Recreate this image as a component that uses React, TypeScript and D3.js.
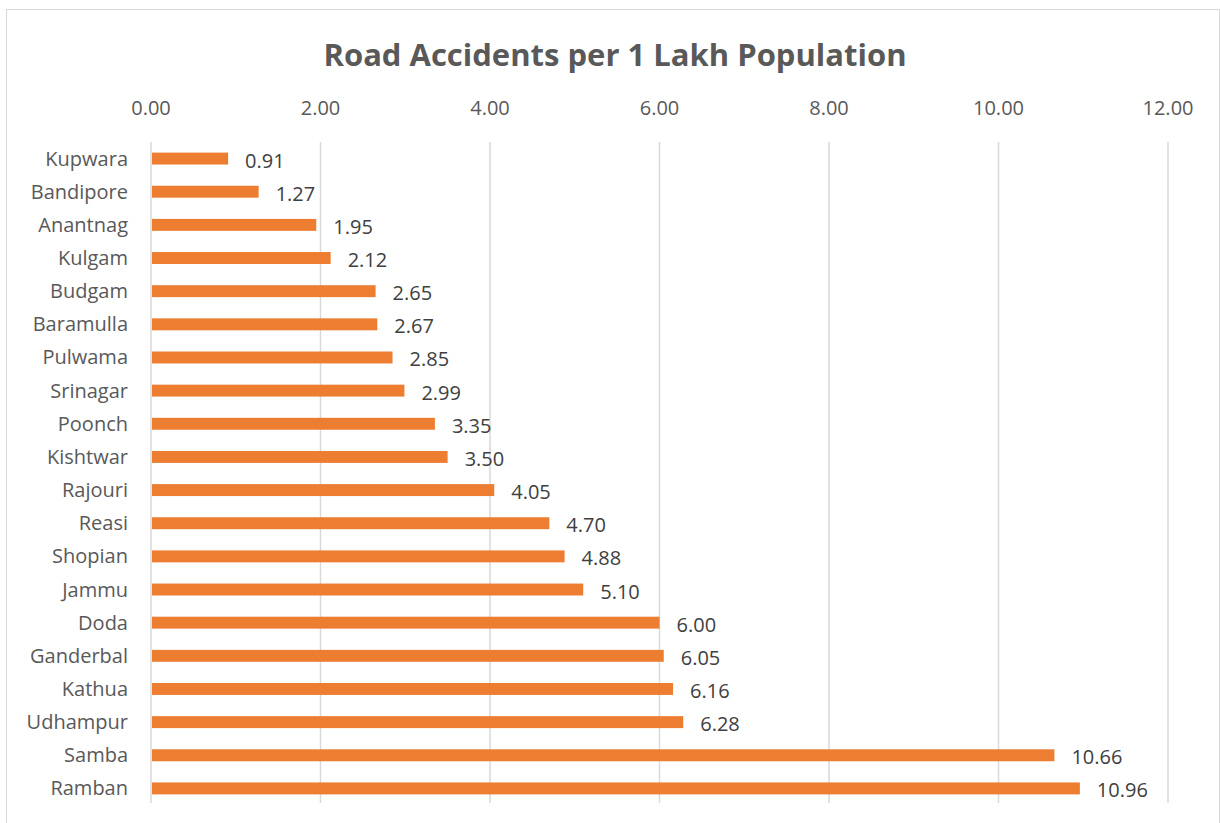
import React from 'react';
import * as d3 from 'd3';

const districts = [
  'Kupwara', 'Bandipore', 'Anantnag', 'Kulgam', 'Budgam', 'Baramulla', 'Pulwama',
  'Srinagar', 'Poonch', 'Kishtwar', 'Rajouri', 'Reasi', 'Shopian', 'Jammu', 'Doda',
  'Ganderbal', 'Kathua', 'Udhampur', 'Samba', 'Ramban',
];
const accidentsPerLakh = [
  0.91, 1.27, 1.95, 2.12, 2.65, 2.67, 2.85, 2.99, 3.35, 3.5, 4.05, 4.7, 4.88, 5.1,
  6.0, 6.05, 6.16, 6.28, 10.66, 10.96,
];
const xTicks = [0, 2, 4, 6, 8, 10, 12];

const font = '"Open Sans", sans-serif';

const App = () => {
  const width = 1220;
  const height = 823;
  const plot = { left: 151, right: 1168, top: 142, bottom: 805 };

  const x = d3.scaleLinear().domain([0, 12]).range([plot.left, plot.right]);
  const y = d3
    .scaleBand()
    .domain(districts)
    .range([plot.top, plot.bottom])
    .paddingInner(0.64)
    .paddingOuter(0.32);

  const fmt = d3.format('.2f');

  return (
    <svg
      width={width}
      height={height}
      style={{ position: 'absolute', left: 0, top: 0, background: '#fff' }}
      fontFamily={font}
    >
      <rect x={6.5} y={9.5} width={1213} height={820} fill="#fff" stroke="#d9d9d9" />
      <text x={615} y={66} textAnchor="middle" fontSize={31} fontWeight="bold" fill="#595959">
        Road Accidents per 1 Lakh Population
      </text>

      {/* vertical gridlines */}
      {xTicks.map(t => (
        <line
          key={'g' + t}
          x1={x(t)}
          x2={x(t)}
          y1={plot.top}
          y2={plot.bottom - 2}
          stroke="#d9d9d9"
          strokeWidth={1.5}
        />
      ))}

      {/* top axis labels */}
      {xTicks.map(t => (
        <text key={'t' + t} x={x(t)} y={115} textAnchor="middle" fontSize={20} fill="#595959">
          {fmt(t)}
        </text>
      ))}

      {/* category labels */}
      {districts.map(d => (
        <text
          key={'c' + d}
          x={128}
          y={(y(d) ?? 0) + y.bandwidth() / 2}
          dy="0.35em"
          textAnchor="end"
          fontSize={20}
          fill="#595959"
        >
          {d}
        </text>
      ))}

      {/* bars */}
      {districts.map((d, i) => (
        <rect
          key={'b' + d}
          x={x(0) + 1}
          y={y(d)}
          width={x(accidentsPerLakh[i]) - x(0) - 1}
          height={y.bandwidth()}
          fill="#ed7d31"
        />
      ))}

      {/* data labels */}
      {districts.map((d, i) => (
        <text
          key={'v' + d}
          x={x(accidentsPerLakh[i]) + 17}
          y={(y(d) ?? 0) + y.bandwidth() / 2 + 2}
          dy="0.35em"
          textAnchor="start"
          fontSize={20}
          fill="#404040"
        >
          {fmt(accidentsPerLakh[i])}
        </text>
      ))}
    </svg>
  );
};

export default App;
